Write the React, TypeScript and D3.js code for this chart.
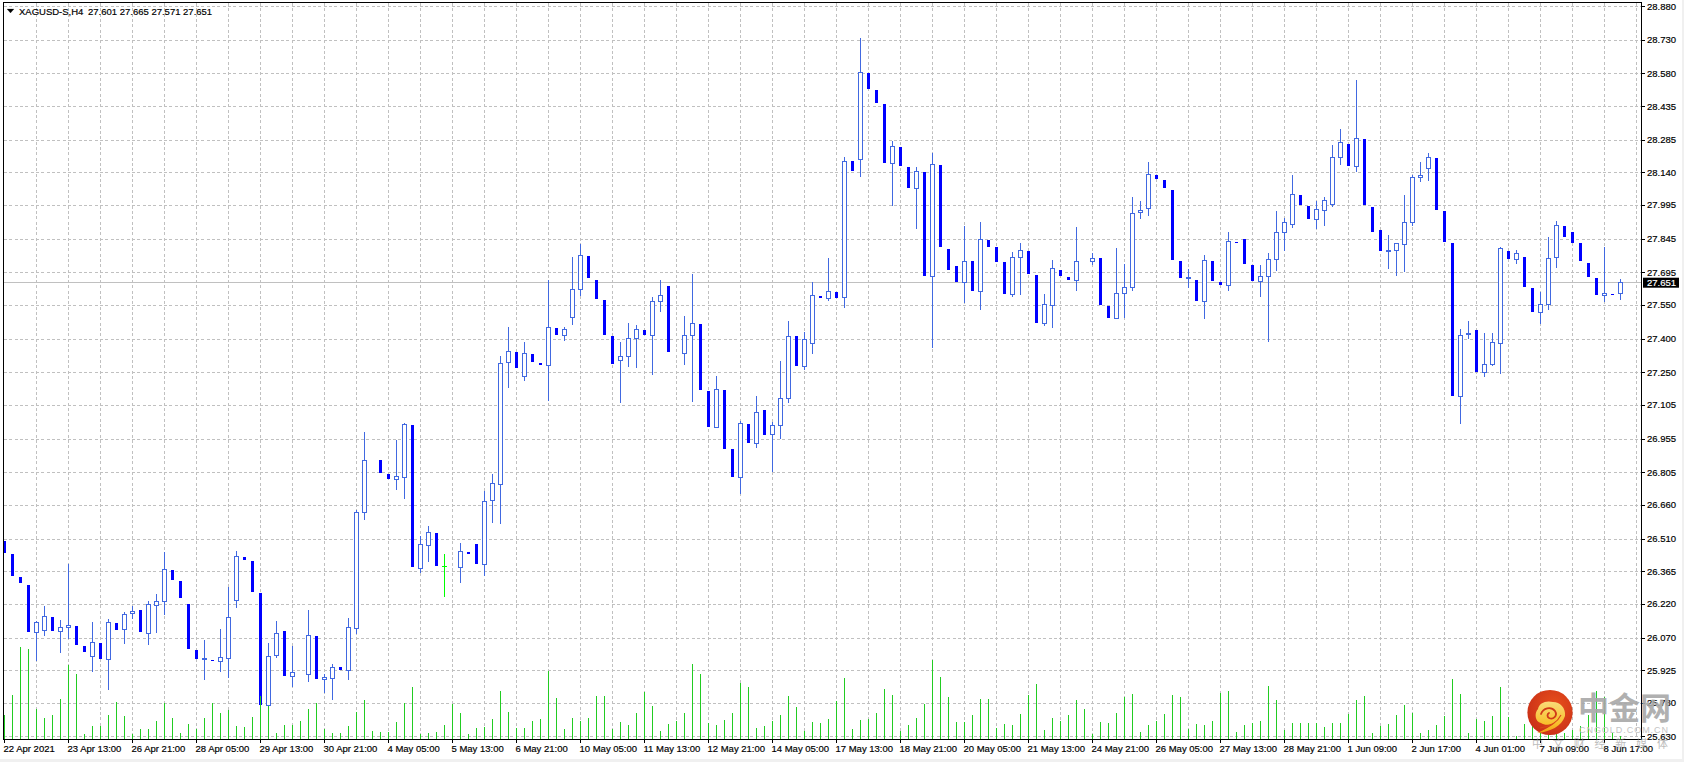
import React from 'react'
import * as d3 from 'd3'

// XAGUSD-S H4 bars. null = bar not visible in the picture
const opens = [
  26.5, 26.442, 26.34, 26.304, 26.092, 26.102, 26.162, 26.096, 26.114, 26.122,
  26.033, 25.985, 26.046, 25.972, 26.135, 26.105, 26.176, 26.193, 26.087, 26.212,
  26.23, 26.371, 26.322, 26.219, 26.015, 25.972, 25.97, 25.963, 25.976, 26.234,
  26.429, 26.411, 26.268, 25.767, 25.99, 26.099, 25.896, null, 25.905, 26.077,
  25.883, 25.887, 25.939, 25.923, 26.11, 26.626, null, 26.86, 26.798, 26.773,
  26.781, 27.016, 26.377, 26.479, 26.535, 26.387, null, 26.381, 26.451, 26.486,
  26.394, 26.679, 26.75, 27.293, 27.341, 27.231, 27.332, 27.292, 27.28, 27.448,
  27.413, 27.493, 27.618, 27.768, 27.661, 27.572, 27.412, 27.302, 27.32, 27.4,
  27.439, 27.413, 27.565, 27.634, null, 27.333, 27.413, 27.465, 27.167, 27.004,
  27.172, 26.909, 26.782, 27.02, 26.933, 27.083, 26.973, 27.013, 27.133, 27.412,
  27.275, 27.378, 27.59, 27.578, 27.608, 27.583, 28.191, 28.197, 28.582, 28.507,
  28.444, 28.179, 28.253, 28.164, 28.068, 28.142, 27.676, 28.173, 27.799, 27.724,
  27.649, 27.746, 27.609, 27.839, 27.808, 27.741, 27.595, 27.761, 27.79, 27.684,
  27.467, 27.547, 27.706, 27.675, 27.658, null, 27.744, 27.759, 27.546, 27.489,
  27.6, 27.627, 27.961, 27.979, 28.128, 28.106, 28.062, 27.746, 27.666, 27.661,
  27.565, 27.746, 27.652, 27.636, 27.83, 27.844, 27.728, 27.652, 27.676, 27.752,
  27.872, 27.907, 28.039, 27.99, 27.93, 27.97, 27.996, 28.205, 28.266, 28.165,
  28.289, 27.986, 27.884, 27.787, 27.792, 27.818, 27.916, 28.117, 28.157, 28.204,
  27.968, 27.826, 27.142, 27.419, 27.439, 27.249, 27.283, 27.378, 27.79, 27.752,
  27.764, 27.626, 27.516, 27.55, 27.761, 27.901, 27.875, 27.826, 27.737, 27.67,
  27.592, 27.599, 27.601
]

const highs = [
  26.5, 26.442, 26.34, 26.304, 26.145, 26.211, 26.162, 26.148, 26.397, 26.122,
  26.033, 26.139, 26.046, 26.153, 26.135, 26.184, 26.211, 26.193, 26.233, 26.264,
  26.451, 26.371, 26.322, 26.219, 26.015, 26.059, 25.97, 26.108, 26.295, 26.455,
  26.429, 26.411, 26.268, 26.046, 26.144, 26.099, 26.033, null, 26.193, 26.077,
  25.908, 25.952, 25.939, 26.157, 26.638, 26.985, null, 26.86, 26.798, 26.949,
  27.025, 27.016, 26.522, 26.566, 26.535, 26.442, null, 26.491, 26.451, 26.486,
  26.722, 26.798, 27.323, 27.452, 27.341, 27.385, 27.332, 27.292, 27.661, 27.448,
  27.452, 27.763, 27.823, 27.768, 27.661, 27.572, 27.412, 27.385, 27.47, 27.461,
  27.439, 27.585, 27.661, 27.634, null, 27.501, 27.688, 27.465, 27.167, 27.234,
  27.172, 26.909, 27.034, 27.02, 27.145, 27.083, 27.028, 27.301, 27.479, 27.412,
  27.43, 27.652, 27.59, 27.759, 27.608, 28.208, 28.191, 28.736, 28.582, 28.507,
  28.444, 28.28, 28.253, 28.164, 28.164, 28.142, 28.226, 28.173, 27.799, 27.724,
  27.902, 27.746, 27.919, 27.839, 27.808, 27.741, 27.786, 27.826, 27.79, 27.684,
  27.599, 27.75, 27.706, 27.675, 27.897, null, 27.781, 27.759, 27.546, 27.804,
  27.732, 28.031, 28.013, 28.186, 28.128, 28.106, 28.062, 27.746, 27.71, 27.661,
  27.772, 27.746, 27.652, 27.875, 27.83, 27.844, 27.728, 27.728, 27.781, 27.968,
  27.936, 28.128, 28.039, 27.99, 28.013, 28.03, 28.262, 28.333, 28.266, 28.551,
  28.289, 27.986, 27.884, 27.861, 27.826, 28.039, 28.128, 28.186, 28.226, 28.204,
  27.968, 27.826, 27.443, 27.479, 27.439, 27.425, 27.425, 27.808, 27.79, 27.795,
  27.764, 27.626, 27.608, 27.853, 27.924, 27.901, 27.875, 27.826, 27.737, 27.67,
  27.808, 27.599, 27.665
]

const lows = [
  26.448, 26.345, 26.313, 26.095, 25.966, 26.077, 26.099, 26.001, 26.062, 26.037,
  26.006, 25.917, 25.975, 25.837, 26.104, 26.041, 26.153, 26.095, 26.037, 26.09,
  26.169, 26.326, 26.246, 26.019, 25.975, 25.881, 25.966, 25.917, 25.89, 26.202,
  26.415, 26.273, 25.77, 25.767, 25.979, 25.899, 25.852, null, 25.872, 25.886,
  25.822, 25.792, 25.926, 25.881, 26.086, 26.593, null, 26.802, 26.776, 26.727,
  26.687, 26.384, 26.357, 26.406, 26.388, 26.251, null, 26.313, 26.442, 26.397,
  26.344, 26.58, 26.575, 27.181, 27.27, 27.212, 27.296, 27.283, 27.123, 27.416,
  27.39, 27.461, 27.59, 27.67, 27.577, 27.416, 27.287, 27.114, 27.274, 27.27,
  27.416, 27.238, 27.519, 27.341, null, 27.283, 27.118, 27.172, 27.007, 27.004,
  26.909, 26.785, 26.709, 26.936, 26.914, 26.971, 26.807, 26.955, 27.114, 27.278,
  27.261, 27.332, 27.581, 27.569, 27.581, 27.537, 28.146, 28.12, 28.511, 28.449,
  28.182, 27.99, 28.168, 28.071, 27.888, 27.679, 27.36, 27.808, 27.706, 27.652,
  27.559, 27.612, 27.528, 27.808, 27.741, 27.599, 27.586, 27.595, 27.688, 27.47,
  27.457, 27.448, 27.679, 27.661, 27.612, null, 27.728, 27.55, 27.492, 27.489,
  27.492, 27.612, 27.933, 27.946, 28.111, 28.071, 27.75, 27.67, 27.626, 27.568,
  27.488, 27.657, 27.639, 27.612, 27.826, 27.732, 27.657, 27.586, 27.385, 27.701,
  27.79, 27.894, 27.995, 27.933, 27.888, 27.901, 27.986, 28.173, 28.168, 28.142,
  27.995, 27.875, 27.79, 27.71, 27.679, 27.697, 27.901, 28.097, 28.102, 27.973,
  27.83, 27.145, 27.021, 27.399, 27.252, 27.23, 27.279, 27.243, 27.755, 27.732,
  27.63, 27.519, 27.465, 27.528, 27.715, 27.853, 27.826, 27.746, 27.675, 27.594,
  27.563, 27.594, 27.571
]

const closes = [
  26.448, 26.345, 26.313, 26.095, 26.138, 26.165, 26.099, 26.116, 26.124, 26.037,
  26.006, 26.049, 25.975, 26.138, 26.104, 26.173, 26.184, 26.095, 26.215, 26.231,
  26.374, 26.326, 26.246, 26.019, 25.975, 25.975, 25.966, 25.982, 26.16, 26.431,
  26.415, 26.273, 25.77, 25.987, 26.089, 25.899, 25.915, null, 26.08, 25.886,
  25.893, 25.938, 25.926, 26.116, 26.627, 26.859, null, 26.802, 26.776, 26.787,
  27.019, 26.384, 26.485, 26.538, 26.388, 26.387, null, 26.454, 26.442, 26.397,
  26.676, 26.756, 27.29, 27.344, 27.27, 27.335, 27.296, 27.283, 27.45, 27.416,
  27.442, 27.62, 27.771, 27.67, 27.577, 27.416, 27.287, 27.321, 27.402, 27.442,
  27.416, 27.566, 27.593, 27.341, null, 27.415, 27.468, 27.172, 27.007, 27.175,
  26.909, 26.785, 27.023, 26.936, 27.072, 26.971, 27.014, 27.135, 27.41, 27.278,
  27.397, 27.593, 27.581, 27.611, 27.581, 28.189, 28.146, 28.585, 28.511, 28.449,
  28.182, 28.256, 28.168, 28.071, 28.145, 27.679, 28.176, 27.808, 27.706, 27.652,
  27.744, 27.612, 27.842, 27.808, 27.741, 27.599, 27.762, 27.793, 27.688, 27.47,
  27.553, 27.713, 27.679, 27.661, 27.744, null, 27.758, 27.55, 27.492, 27.602,
  27.629, 27.958, 27.971, 28.131, 28.111, 28.071, 27.75, 27.67, 27.67, 27.568,
  27.749, 27.657, 27.639, 27.833, 27.826, 27.732, 27.657, 27.678, 27.753, 27.873,
  27.918, 28.042, 27.995, 27.933, 27.976, 28.016, 28.207, 28.274, 28.168, 28.291,
  27.995, 27.875, 27.79, 27.792, 27.821, 27.918, 28.118, 28.127, 28.207, 27.973,
  27.83, 27.145, 27.415, 27.424, 27.252, 27.286, 27.384, 27.799, 27.755, 27.78,
  27.63, 27.519, 27.553, 27.758, 27.904, 27.853, 27.826, 27.746, 27.675, 27.594,
  27.602, 27.594, 27.651
]

// tick volume, one unit of the picture = 100 ticks
const volumes = [
  2400, 4400, 9200, 9000, 3000, 2100, 2400, 4000, 7400, 6500,
  500, 1300, 1300, 2400, 3700, 2300, 500, 1000, 1000, 1800,
  3600, 2100, 600, 1500, 1000, 2100, 3600, 2600, 2900, 1300,
  1200, 2200, 4300, 3300, 600, 1400, 1400, 1800, 3000, 3600,
  1000, 600, 600, 1300, 2700, 3900, 800, 700, 700, 1700,
  3600, 5200, 500, 600, 700, 1400, 3500, 2600, 500, 1100,
  1200, 2000, 4800, 2700, 1100, 1100, 1800, 2000, 6800, 4100,
  1000, 2100, 1800, 2100, 4300, 4300, 1000, 1700, 1400, 2600,
  4700, 3300, 800, 1500, 1800, 2600, 7500, 6500, 1600, 1400,
  1900, 2600, 5600, 5200, 1100, 1300, 1800, 2400, 4300, 3200,
  800, 1700, 1600, 2000, 3800, 6100, 1000, 1900, 2000, 2600,
  5000, 4400, 800, 1400, 2100, 3500, 7900, 6200, 4200, 1700,
  1700, 2400, 4000, 4000, 1100, 1500, 1400, 2500, 4400, 5500,
  900, 2100, 1800, 2400, 3900, 3000, 500, 1700, 1600, 2600,
  4200, 4500, 700, 1400, 1800, 2500, 4400, 4200, 1000, 1500,
  1400, 1800, 4600, 4800, 700, 1400, 1600, 1800, 5300, 3900,
  900, 1600, 1600, 1600, 1600, 1200, 1600, 1600, 2500, 3900,
  4300, 600, 1300, 1500, 2400, 3400, 2600, 600, 900, 1400,
  2300, 6000, 4500, 600, 2000, 1800, 2300, 5200, 2200, 300,
  1500, 1300, 800, 900, 600, 600, 900, 1300, 2400, 4800,
  4200, 600, 300
]

const priceTicks = [
  28.88, 28.73, 28.58, 28.435, 28.285, 28.14, 27.995, 27.845, 27.695, 27.55, 27.4, 27.25,
  27.105, 26.955, 26.805, 26.66, 26.51, 26.365, 26.22, 26.07, 25.925, 25.78, 25.63
]

const timeLabels = [
  '22 Apr 2021', '23 Apr 13:00', '26 Apr 21:00', '28 Apr 05:00', '29 Apr 13:00', '30 Apr 21:00',
  '4 May 05:00', '5 May 13:00', '6 May 21:00', '10 May 05:00', '11 May 13:00', '12 May 21:00',
  '14 May 05:00', '17 May 13:00', '18 May 21:00', '20 May 05:00', '21 May 13:00', '24 May 21:00',
  '26 May 05:00', '27 May 13:00', '28 May 21:00', '1 Jun 09:00', '2 Jun 17:00', '4 Jun 01:00',
  '7 Jun 09:00', '8 Jun 17:00'
]

const lastPrice = 27.651
const header = 'XAGUSD-S,H4'
const headerValues = '27.601 27.665 27.571 27.651'

const W = 1684
const H = 762
const axisX = 1641
const plotLeft = 3
const plotTop = 2
const axisY = 739
const font = '"Liberation Sans", Arial, sans-serif'

const BULL = '#4169e1'
const BEAR = '#0000ff'
const DOJI = '#00ff00'
const VOL = '#22cc22'
const GRID = '#c0c0c0'
const DASH = '3 2.33'

const x = d3.scaleLinear().domain([0, 202]).range([4.5, 1620.5])
const y = d3.scaleLinear().domain([25.63, 28.88]).range([736.4, 6])
const v = d3.scaleLinear().domain([0, 10000]).range([axisY, axisY - 100])

const bars = opens.map((o, i) => ({ i, o, h: highs[i], l: lows[i], c: closes[i] })).filter(b => b.o !== null)
const gridBars = d3.range(4, 205, 4)

const Candle = ({ b }: { b: any }) => {
  const cx = x(b.i)
  const top = y(Math.max(b.o, b.c))
  const bottom = y(Math.min(b.o, b.c))
  if (b.c === b.o) {
    return (
      <g stroke={DOJI}>
        <line x1={cx} x2={cx} y1={y(b.h)} y2={y(b.l)} />
        <line x1={cx - 2.5} x2={cx + 2.5} y1={top} y2={top} />
      </g>
    )
  }
  if (b.c < b.o) {
    return (
      <g>
        <line x1={cx} x2={cx} y1={y(b.h)} y2={y(b.l)} stroke={BEAR} />
        <rect x={cx - 1.5} width={3} y={top} height={Math.max(bottom - top, 1)} fill={BEAR} />
      </g>
    )
  }
  return (
    <g stroke={BULL}>
      <line x1={cx} x2={cx} y1={y(b.h)} y2={y(b.l)} />
      <rect x={cx - 2} width={4} y={top} height={Math.max(bottom - top, 1)} fill="#fff" />
    </g>
  )
}

// CNGOLD watermark sitting on the bottom right corner
const Watermark = () => (
  <g>
    <defs>
      <radialGradient id="logoRed" cx="0.6" cy="0.35" r="0.8">
        <stop offset="0" stopColor="#e8501c" />
        <stop offset="1" stopColor="#c42a16" />
      </radialGradient>
      <linearGradient id="logoGold" x1="0" y1="0" x2="0" y2="1">
        <stop offset="0" stopColor="#f9dc7a" />
        <stop offset="0.7" stopColor="#f8bf2c" />
        <stop offset="1" stopColor="#f29a12" />
      </linearGradient>
    </defs>
    <circle cx={1550} cy={712.5} r={22.6} fill="url(#logoRed)" />
    <path
      d="M1537 733 C1550 732 1562 726 1565 716 C1566 708 1560 702 1553 702 C1546 700 1539 703 1538 709 C1534 713 1535 722 1541 723 C1545 726 1552 725 1556 722 C1550 727 1544 730 1537 733 Z"
      fill="url(#logoGold)"
    />
    <path d="M1541 714 C1543 708 1551 706 1555 711 C1558 716 1553 720 1549 718 C1547 717 1547 714 1549 713" fill="none" stroke="#d03a18" strokeWidth={1.8} strokeLinecap="round" />
    <path d="M1540 728 C1548 727 1557 723 1561 715" fill="none" stroke="#d8461a" strokeWidth={1.1} />
    <text x={1578} y={719} fontFamily='"Noto Sans CJK SC"' fontWeight={700} fontSize={31} fill="#a8a8a8" opacity={0.9}>中金网</text>
    <text x={1579} y={733} fontFamily={font} fontSize={9} fill="#c4c4c4" textLength={89}>CNGOLD.COM.CN</text>
    <text x={1532} y={748} fontFamily='"Noto Sans CJK SC"' fontSize={11} fill="#999" opacity={0.65} textLength={136}>中文财经新媒体</text>
  </g>
)

export default function App() {
  return (
    <svg width={W} height={H} viewBox={`0 0 ${W} ${H}`} style={{ position: 'absolute', left: 0, top: 0, background: '#fff' }}>
      <g shapeRendering="crispEdges">
        {/* grid */}
        {priceTicks.map(t => (
          <line key={t} x1={plotLeft + 1} x2={axisX} y1={Math.round(y(t)) + 0.5} y2={Math.round(y(t)) + 0.5} stroke={GRID} strokeDasharray={DASH} />
        ))}
        {gridBars.map(i => (
          <line key={i} x1={x(i)} x2={x(i)} y1={plotTop + 1} y2={axisY} stroke={GRID} strokeDasharray={DASH} />
        ))}
        <line x1={plotLeft + 1} x2={axisX} y1={Math.round(y(lastPrice)) + 0.5} y2={Math.round(y(lastPrice)) + 0.5} stroke={GRID} />

        {/* candles */}
        {bars.map(b => <Candle key={b.i} b={b} />)}

        {/* volumes */}
        {volumes.map((d, i) => (
          <line key={i} x1={x(i)} x2={x(i)} y1={v(d)} y2={axisY} stroke={VOL} />
        ))}

        {/* frame */}
        <line x1={plotLeft + 0.5} x2={plotLeft + 0.5} y1={plotTop} y2={axisY + 1} stroke="#000" />
        <line x1={plotLeft} x2={axisX + 1} y1={plotTop + 0.5} y2={plotTop + 0.5} stroke="#000" />
        <line x1={plotLeft} x2={axisX + 1} y1={axisY + 0.5} y2={axisY + 0.5} stroke="#000" />
        <line x1={axisX + 0.5} x2={axisX + 0.5} y1={plotTop} y2={axisY + 1} stroke="#000" />
        {priceTicks.map(t => (
          <line key={t} x1={axisX} x2={axisX + 4} y1={Math.round(y(t)) + 0.5} y2={Math.round(y(t)) + 0.5} stroke="#000" />
        ))}
        {timeLabels.map((_, k) => (
          <line key={k} x1={x(k * 8)} x2={x(k * 8)} y1={axisY} y2={axisY + 4} stroke="#000" />
        ))}
        <rect x={0} y={759} width={W} height={3} fill="#f0f0f0" />
        <rect x={1682} y={0} width={2} height={H} fill="#f0f0f0" />
      </g>

      {/* labels */}
      <g fontFamily={font} fontSize={9.5} fill="#000" stroke="#000" strokeWidth={0.18}>
        {priceTicks.map(t => (
          <text key={t} x={axisX + 6} y={y(t) + 3.5}>{t.toFixed(3)}</text>
        ))}
        {timeLabels.map((s, k) => (
          <text key={s} x={x(k * 8) - 1} y={752}>{s}</text>
        ))}
        <path d="M7 9 L14 9 L10.5 13 Z" fill="#000" />
        <text x={19} y={14.5}>{header}</text>
        <text x={88} y={14.5}>{headerValues}</text>
      </g>

      {/* current price tag */}
      <rect x={axisX + 2} y={y(lastPrice) - 4.5} width={36} height={10} fill="#000" />
      <text x={axisX + 6} y={y(lastPrice) + 3.5} fontFamily={font} fontSize={9.5} fill="#fff" stroke="#fff" strokeWidth={0.18}>{lastPrice.toFixed(3)}</text>

      <Watermark />
    </svg>
  )
}
